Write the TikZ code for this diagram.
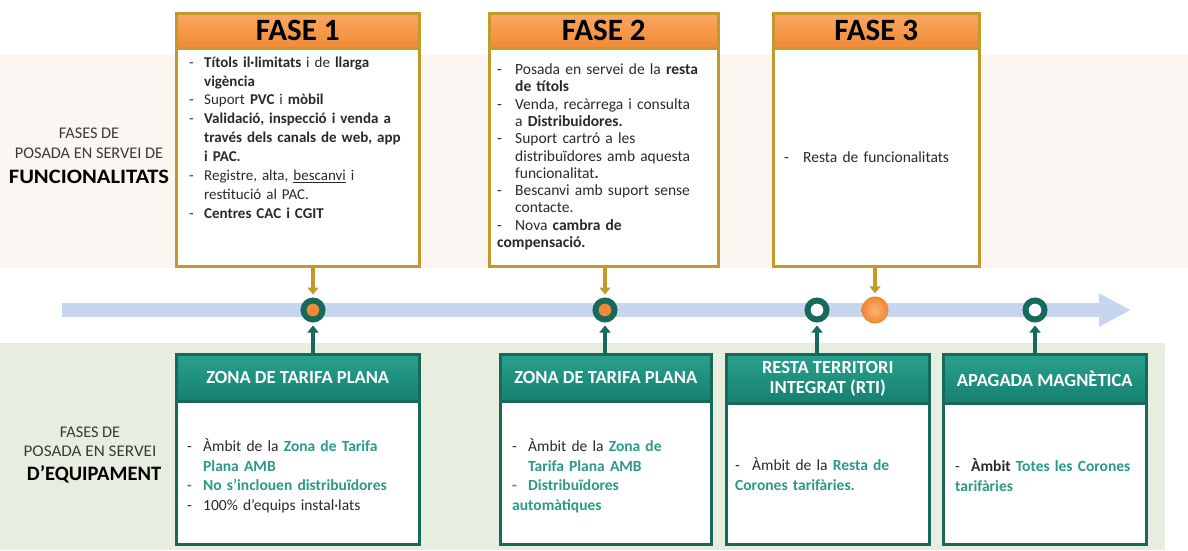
\documentclass[tikz,border=0pt]{standalone}
\usepackage{fontspec}
\usepackage{graphicx}
\setmainfont{Carlito}
\usetikzlibrary{arrows.meta,shadings}
\definecolor{bandtop}{HTML}{FBF6F1}
\definecolor{bandbot}{HTML}{E8EEDF}
\definecolor{tlblue}{HTML}{C6D6EE}
\definecolor{gold}{HTML}{C39A2A}
\definecolor{orTop}{HTML}{F9A862}
\definecolor{orBot}{HTML}{F08A36}
\definecolor{tealTop}{HTML}{2AA18D}
\definecolor{tealBot}{HTML}{168070}
\definecolor{tealDark}{HTML}{17695C}
\definecolor{tealText}{HTML}{2B9A86}
\definecolor{ballIn}{HTML}{FBB576}
\definecolor{ballOut}{HTML}{EC8630}
\definecolor{labelgray}{HTML}{3A3A3A}
\definecolor{bodygray}{HTML}{2A2A2A}
\newcommand\ditem[2][15pt]{\par\noindent\hangindent=#1\hangafter=1\makebox[#1][l]{-}#2}
\newcommand\tditem[2][15pt]{\par\noindent\hangindent=#1\hangafter=1{\color{tealText}\bfseries\makebox[#1][l]{-}#2}}
\newcommand\tbf[1]{\textcolor{tealText}{\bfseries #1}}
\newcommand\nl{\newline}
\newcommand\jline[1]{\makebox[202pt][s]{#1}}
\tikzset{
  phasebox/.style={draw=gold, line width=2.5pt, fill=white, rectangle, anchor=north west, inner sep=0},
  phasehead/.style={draw=gold, line width=2.5pt, top color=orTop, bottom color=orBot, anchor=north west, font=\fontsize{31}{34}\selectfont\bfseries, minimum height=35pt, inner sep=0},
  tealbox/.style={draw=tealDark, line width=2.5pt, fill=white, anchor=north west, inner sep=0, minimum height=190pt},
  tealhead/.style={draw=tealDark, line width=2.5pt, top color=tealTop, bottom color=tealBot, anchor=north west, text=white, font=\fontsize{18.5}{20}\selectfont\bfseries, align=center, minimum height=47pt, inner sep=0},
  bodytext/.style={anchor=north west, inner sep=0, align=left, text=bodygray},
  lbl/.style={font=\fontsize{16.3}{18}\selectfont, text=labelgray, inner sep=0},
  lblbig/.style={font=\fontsize{20.5}{22}\selectfont\bfseries, text=black, inner sep=0},
  ringdot/.style={circle, draw=tealDark, line width=6pt, minimum size=19pt, inner sep=0},
  goldarrow/.style={draw=gold, line width=4pt, -{Triangle[width=11pt,length=7pt]}, shorten >=3pt},
  tealarrow/.style={draw=tealDark, line width=4pt, -{Triangle[width=11pt,length=7pt]}, shorten >=3pt},
}
\begin{document}
\begin{tikzpicture}[x=1pt,y=-1pt]
\useasboundingbox (0,0) rectangle (1188,550);
% bands
\fill[bandtop] (0,55) rectangle (1188,268);
\fill[bandbot] (0,343) rectangle (1165,550);
% timeline
\coordinate (tls) at (62,310);
\coordinate (tle) at (1131,310);
\draw[line width=14pt, tlblue, -{Triangle[width=31pt,length=32pt]}] (tls) -- (tle);
% left labels
\node[lbl] (lf1) at (89,133) {FASES DE};
\node[lbl] (lf2) at (89,153) {POSADA EN SERVEI DE};
\node[lblbig] (lf3) at (89,177) {\scalebox{1.1}[1]{FUNCIONALITATS}};
\node[lbl] (le1) at (90,432) {FASES DE};
\node[lbl] (le2) at (90,451) {\scalebox{1.05}[1]{POSADA EN SERVEI}};
\node[lblbig] (le3) at (94,474) {D’EQUIPAMENT};
% FASE 1
\node[phasebox, minimum width=243pt, minimum height=253pt] (f1) at (175,12) {};
\node[phasehead, minimum width=243pt] (f1h) at (175,12) {FASE 1};
\node[bodytext, text width=224pt, font=\fontsize{15}{18.9}\selectfont] (f1t) at (189,48) {%
\ditem{\textbf{Títols il·limitats} i de \textbf{llarga}\nl\textbf{vigència}}
\ditem{Suport \textbf{PVC} i \textbf{mòbil}}
\ditem{\jline{\textbf{Validació, inspecció i venda a}}\nl\jline{\textbf{través dels canals de web, app}}\nl\textbf{i PAC.}}
\ditem{Registre, alta, \underline{bescanvi} i\nl restitució al PAC.}
\ditem{\textbf{Centres CAC i CGIT}}};
% FASE 2
\node[phasebox, minimum width=229pt, minimum height=253pt] (f2) at (488,12) {};
\node[phasehead, minimum width=229pt] (f2h) at (488,12) {FASE 2};
\node[bodytext, text width=215pt, font=\fontsize{15.5}{17.3}\selectfont] (f2t) at (497,57) {%
\ditem[18pt]{Posada en servei de la \textbf{resta}\nl\textbf{de títols}}
\ditem[18pt]{Venda, recàrrega i consulta\nl a \textbf{Distribuidores.}}
\ditem[18pt]{Suport cartró a les\nl distribuïdores amb aquesta\nl funcionalitat\textbf{.}}
\ditem[18pt]{Bescanvi amb suport sense\nl contacte.}
\ditem[18pt]{Nova \textbf{cambra de}\nl\textbf{compensació.}}};
% FASE 3
\node[phasebox, minimum width=206pt, minimum height=253pt] (f3) at (772,12) {};
\node[phasehead, minimum width=206pt] (f3h) at (772,12) {FASE 3};
\node[bodytext, text width=190pt, font=\fontsize{15.5}{17.3}\selectfont] (f3t) at (784,145) {%
\ditem[19pt]{Resta de funcionalitats}};
% bottom boxes
\node[tealbox, minimum width=243pt] (b1) at (175,353) {};
\node[tealhead, minimum width=243pt] (b1h) at (175,353) {ZONA DE TARIFA PLANA};
\node[bodytext, text width=225pt, font=\fontsize{15.5}{19.5}\selectfont] (b1t) at (187,432) {%
\ditem[16pt]{Àmbit de la \tbf{Zona de Tarifa}\nl\tbf{Plana AMB}}
\tditem[16pt]{No s’inclouen distribuïdores}
\ditem[16pt]{100\% d’equips instal·lats}};
\node[tealbox, minimum width=211pt] (b2) at (499,353) {};
\node[tealhead, minimum width=211pt] (b2h) at (499,353) {ZONA DE TARIFA PLANA};
\node[bodytext, text width=195pt, font=\fontsize{15.5}{19.5}\selectfont] (b2t) at (512,432) {%
\ditem[16pt]{Àmbit de la \tbf{Zona de}\nl\tbf{Tarifa Plana AMB}}
\tditem[16pt]{Distribuïdores\nl automàtiques}};
\node[tealbox, minimum width=203pt] (b3) at (725,353) {};
\node[tealhead, minimum width=203pt, minimum height=49pt] (b3h) at (725,353) {RESTA TERRITORI\\INTEGRAT (RTI)};
\node[bodytext, text width=185pt, font=\fontsize{15.5}{19.5}\selectfont] (b3t) at (735,451) {%
\ditem[17pt]{Àmbit de la \tbf{Resta de}\nl\tbf{Corones tarifàries.}}};
\node[tealbox, minimum width=203pt] (b4) at (942,353) {};
\node[tealhead, minimum width=203pt, minimum height=49pt] (b4h) at (942,353) {APAGADA MAGNÈTICA};
\node[bodytext, text width=185pt, font=\fontsize{15.5}{19.5}\selectfont] (b4t) at (955,452) {%
\ditem[16pt]{\textbf{Àmbit} \tbf{Totes les Corones}\nl\tbf{tarifàries}}};
% markers
\node[ringdot, fill=orBot] (c1) at (313,310) {};
\node[ringdot, fill=orBot] (c2) at (605,310) {};
\node[ringdot, fill=white] (c4) at (817,310) {};
\node[circle, minimum size=27pt, inner sep=0, inner color=ballIn, outer color=ballOut] (c3) at (875,310) {};
\node[ringdot, fill=white] (c5) at (1035,310) {};
% connectors
\draw[goldarrow] (f1.south -| c1) -- (c1.north);
\draw[goldarrow] (f2.south -| c2) -- (c2.north);
\draw[goldarrow] (f3.south -| c3) -- (c3.north);
\draw[tealarrow] (b1.north -| c1) -- (c1.south);
\draw[tealarrow] (b2.north -| c2) -- (c2.south);
\draw[tealarrow] (b3.north -| c4) -- (c4.south);
\draw[tealarrow] (b4.north -| c5) -- (c5.south);
\end{tikzpicture}
\end{document}
